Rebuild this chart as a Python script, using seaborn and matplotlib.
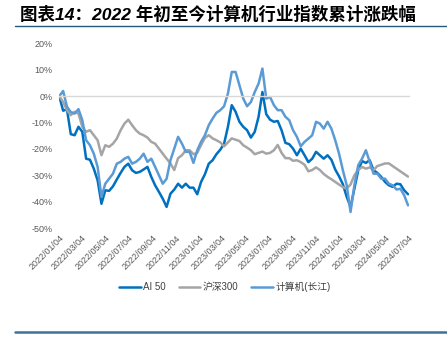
import matplotlib
matplotlib.use("Agg")
import matplotlib.pyplot as plt
import matplotlib.dates as mdates
from matplotlib.lines import Line2D
import numpy as np
import pandas as pd
import seaborn as sns

# Cumulative change since 2022-01-04 (%), sampled every 10 calendar days
start_date = "2022-01-04"
n_points = 92

ai50 = [0.0, -5.5, -5.0, -14.4, -14.8, -11.6, -13.5, -23.7, -24.1, -27.5,
        -31.9, -40.8, -35.7, -35.9, -34.2, -31.6, -29.1, -26.8, -25.6, -28.1,
        -29.1, -28.7, -27.8, -26.8, -30.6, -33.8, -36.3, -38.9, -42.0, -37.0,
        -35.4, -33.2, -34.7, -33.2, -34.7, -34.7, -37.2, -32.5, -29.6, -25.6,
        -24.3, -22.0, -20.3, -18.0, -11.6, -3.4, -5.9, -9.7, -11.6, -12.9,
        -15.7, -13.5, -7.8, 1.6, -6.8, -8.9, -9.7, -9.4, -12.9, -17.7,
        -18.2, -19.9, -22.4, -19.9, -22.4, -25.0, -23.7, -21.1, -22.4, -23.7,
        -22.4, -24.1, -27.8, -30.4, -33.4, -38.2, -42.0, -35.1, -28.1, -24.6,
        -25.3, -24.3, -28.1, -29.1, -30.6, -32.5, -33.8, -34.4, -33.2, -33.4,
        -35.7, -37.2]

hs300 = [0.0, -2.2, -5.3, -7.2, -5.9, -6.6, -11.6, -13.5, -12.9, -14.8,
         -16.7, -22.4, -18.6, -19.2, -18.0, -16.1, -12.9, -10.4, -8.9, -11.0,
         -12.9, -14.2, -14.8, -15.7, -17.3, -18.0, -19.9, -21.8, -23.7, -25.5,
         -28.0, -23.5, -22.4, -20.5, -20.5, -22.0, -21.5, -18.5, -15.8, -14.8,
         -16.0, -16.7, -17.5, -19.0, -17.5, -16.0, -16.5, -17.0, -18.6, -19.5,
         -20.5, -22.0, -21.5, -21.0, -21.8, -21.5, -20.5, -18.5, -21.5, -23.5,
         -23.5, -24.5, -24.3, -25.0, -26.0, -28.5, -28.0, -27.0, -28.0, -29.5,
         -30.6, -31.5, -32.5, -33.5, -34.5, -35.0, -33.5, -30.0, -28.0, -26.8,
         -27.5, -27.0, -28.0, -26.5, -26.0, -25.5, -25.5, -26.5, -27.5, -28.5,
         -29.5, -30.5]

computer_cj = [0.0, 2.0, -4.0, -6.0, -6.6, -4.9, -9.1, -16.7, -18.6, -21.8,
               -26.8, -38.2, -33.2, -31.3, -29.4, -25.6, -24.9, -23.7, -23.0, -25.6,
               -24.9, -23.7, -21.8, -24.9, -23.7, -26.8, -30.0, -33.2, -31.3, -24.3,
               -19.9, -15.4, -18.0, -21.1, -21.1, -25.3, -20.5, -17.3, -14.8, -11.0,
               -8.5, -6.3, -5.3, -3.8, 1.0, 9.2, 9.2, 4.2, -0.9, -3.8,
               -2.2, 1.6, 4.8, 10.5, -0.9, -0.3, -3.4, -5.3, -5.3, -7.8,
               -9.1, -12.9, -15.4, -19.0, -17.3, -16.1, -14.8, -9.7, -10.4, -12.3,
               -9.7, -12.3, -16.7, -21.8, -28.1, -33.8, -43.9, -33.8, -26.2, -23.7,
               -20.5, -24.9, -29.4, -29.4, -31.3, -31.3, -33.2, -33.8, -35.4, -35.1,
               -37.6, -41.4]

series_names = ["AI 50", "沪深300", "计算机(长江)"]
series_colors = ["#0070C0", "#A5A5A5", "#5B9BD5"]

tick_dates = ["2022-01-04", "2022-03-04", "2022-05-04", "2022-07-04",
              "2022-09-04", "2022-11-04", "2023-01-04", "2023-03-04",
              "2023-05-04", "2023-07-04", "2023-09-04", "2023-11-04",
              "2024-01-04", "2024-03-04", "2024-05-04", "2024-07-04"]
y_ticks = [-50, -40, -30, -20, -10, 0, 10, 20]

title = "图表14：2022 年初至今计算机行业指数累计涨跌幅"

dates = pd.date_range(start_date, periods=n_points, freq="10D")
frames = []
for name, vals in zip(series_names, [ai50, hs300, computer_cj]):
    frames.append(pd.DataFrame({"date": dates, "value": vals, "series": name}))
df = pd.concat(frames, ignore_index=True)

sns.set_style("white")
plt.rcParams["font.family"] = ["Liberation Sans", "Noto Sans CJK SC"]
plt.rcParams["axes.unicode_minus"] = False

W, H = 447, 340
fig = plt.figure(figsize=(W / 100, H / 100), dpi=100)
ax = fig.add_axes([59.3 / W, 1 - 228 / H, (408.8 - 59.3) / W, (228 - 43.5) / H])

sns.lineplot(data=df, x="date", y="value", hue="series", hue_order=series_names,
             palette=series_colors, linewidth=1.8, ax=ax, legend=True)

tick_nums = mdates.date2num(pd.to_datetime(tick_dates))
ax.set_xlim(tick_nums[0], tick_nums[-1])
ax.set_ylim(-50, 20)
ax.set_xlabel("")
ax.set_ylabel("")

# y axis: percentage labels, no spine
ax.set_yticks(y_ticks)
ax.set_yticklabels([f"{v}%" for v in y_ticks])
ax.tick_params(axis="y", length=0, pad=5, labelsize=6.5, labelcolor="#595959")
for side in ["left", "right", "top"]:
    ax.spines[side].set_visible(False)

# category axis sits on the 0% line, labels stay below the plot
ax.spines["bottom"].set_position(("data", 0))
ax.spines["bottom"].set_color("#D9D9D9")
ax.spines["bottom"].set_linewidth(1.0)
ax.set_xticks(tick_nums)
ax.tick_params(axis="x", direction="out", length=3, width=0.8, color="#D9D9D9",
               labelbottom=False)

sec = ax.secondary_xaxis("bottom")
sec.set_xticks(tick_nums)
sec.set_xticklabels([d.replace("-", "/") for d in tick_dates], rotation=45,
                    ha="right", rotation_mode="anchor", fontsize=6.5,
                    color="#595959")
sec.tick_params(length=0, pad=4)
sec.spines["bottom"].set_visible(False)

handles, labels = ax.get_legend_handles_labels()
ax.legend(handles, labels, loc="center", bbox_to_anchor=(225 / W, 1 - 287 / H),
          bbox_transform=fig.transFigure, ncol=3, frameon=False, fontsize=7,
          handlelength=2.2, handletextpad=0.3, columnspacing=1.3,
          labelcolor="#404040")

fig.text(20 / W, 1 - 14 / H, title, fontsize=12.6, fontweight="bold",
         fontstyle="italic", ha="left", va="center", color="#000000")
fig.add_artist(Line2D([15 / W, 1.0], [1 - 25.5 / H] * 2, color="#24587A", lw=1.0))
fig.add_artist(Line2D([15 / W, 1.0], [1 - 332 / H] * 2, color="#3B729A", lw=1.8))

fig.savefig("out.png", dpi=100, facecolor="white")
